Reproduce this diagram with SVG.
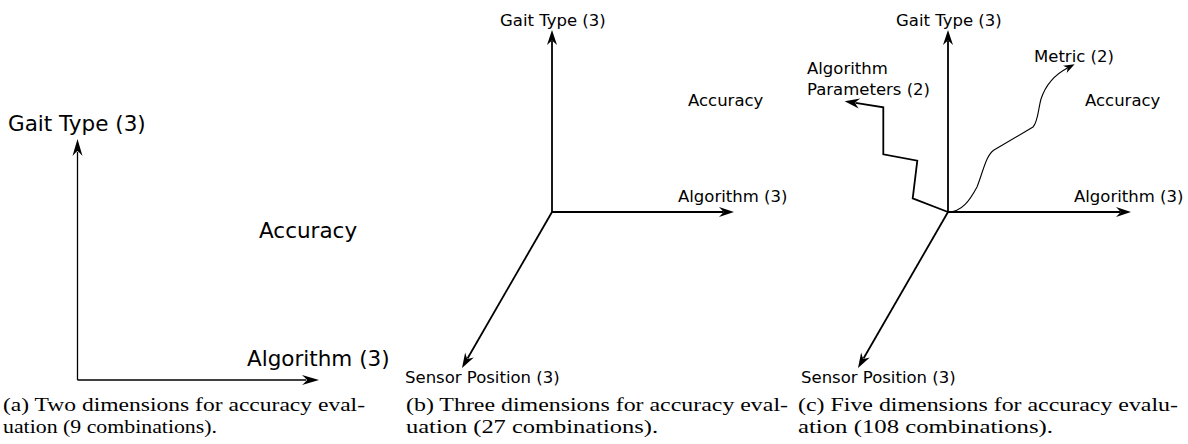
<svg xmlns="http://www.w3.org/2000/svg" width="1188" height="444" viewBox="0 0 1188 444">
<style>
.lbl{font-family:"DejaVu Sans",Verdana,sans-serif;fill:#000}
.big{font-size:21.5px}
.sm{font-size:16.5px}
.cap{font-family:"Liberation Serif","Times New Roman",serif;font-size:18.5px;fill:#000}
.ax{fill:none;stroke:#000;stroke-width:1.8}
.axa{fill:none;stroke:#000;stroke-width:1.3}
.thin{fill:none;stroke:#000;stroke-width:1.1}
</style>
<defs>
<marker id="arrL" markerUnits="userSpaceOnUse" viewBox="-6 -6 22 12" refX="4" refY="0" markerWidth="22" markerHeight="12" orient="auto" overflow="visible">
<path d="M17,0 L0,-5 Q4,-1.5 5,0 Q4,1.5 0,5 Z" fill="#000"/>
</marker>
<marker id="arrM" markerUnits="userSpaceOnUse" viewBox="-6 -6 20 12" refX="4" refY="0" markerWidth="20" markerHeight="12" orient="auto" overflow="visible">
<path d="M15,0 L0,-5 Q3.5,-1.5 4.5,0 Q3.5,1.5 0,5 Z" fill="#000"/>
</marker>
<marker id="arrS" markerUnits="userSpaceOnUse" viewBox="-6 -6 16 12" refX="3" refY="0" markerWidth="16" markerHeight="12" orient="auto" overflow="visible">
<path d="M11,0 L0,-4 Q2.5,-1.2 3,0 Q2.5,1.2 0,4 Z" fill="#000"/>
</marker>
</defs>

<g id="connectors">
<!-- panel a -->
<path class="axa" d="M77.5,380 L77.5,152" marker-end="url(#arrL)"/>
<path class="axa" d="M77.5,380 L306,380" marker-end="url(#arrL)"/>
<!-- panel b -->
<path class="ax" d="M552,212 L552,41" marker-end="url(#arrM)"/>
<path class="ax" d="M552,212 L723,212" marker-end="url(#arrM)"/>
<path class="ax" d="M552,212 L467.5,358.5" marker-end="url(#arrM)"/>
<!-- panel c -->
<path class="ax" d="M948,212 L948,41" marker-end="url(#arrM)"/>
<path class="ax" d="M948,212 L1120,212" marker-end="url(#arrM)"/>
<path class="ax" d="M948,212 L863.5,358.5" marker-end="url(#arrM)"/>
<path class="ax" d="M948,212 L912.7,198.3 L917.3,160.7 L883.3,154.3 L883.3,107.3 L855.5,102.9" marker-end="url(#arrM)"/>
<path class="thin" d="M948,212 C962,212 970,200 977,187 C983,172 986,155 994,150 L1033,127 C1038,122 1038,110 1041,99 C1045,87 1054,75 1067.5,68" marker-end="url(#arrS)"/>
</g>

<g id="panel-a">
<text class="lbl big" x="8" y="131">Gait Type (3)</text>
<text class="lbl big" x="259" y="238">Accuracy</text>
<text class="lbl big" x="247" y="366">Algorithm (3)</text>
<text class="cap" x="3" y="411" textLength="362" lengthAdjust="spacingAndGlyphs">(a) Two dimensions for accuracy eval-</text>
<text class="cap" x="3" y="432.5" textLength="214" lengthAdjust="spacingAndGlyphs">uation (9 combinations).</text>
</g>

<g id="panel-b">
<text class="lbl sm" x="500" y="26">Gait Type (3)</text>
<text class="lbl sm" x="688" y="106">Accuracy</text>
<text class="lbl sm" x="678" y="202">Algorithm (3)</text>
<text class="lbl sm" x="405" y="383">Sensor Position (3)</text>
<text class="cap" x="406" y="411" textLength="382" lengthAdjust="spacingAndGlyphs">(b) Three dimensions for accuracy eval-</text>
<text class="cap" x="406" y="432.5" textLength="252" lengthAdjust="spacingAndGlyphs">uation (27 combinations).</text>
</g>

<g id="panel-c">
<text class="lbl sm" x="896" y="26">Gait Type (3)</text>
<text class="lbl sm" x="1034" y="61.5">Metric (2)</text>
<text class="lbl sm" x="807" y="74">Algorithm</text>
<text class="lbl sm" x="807" y="95">Parameters (2)</text>
<text class="lbl sm" x="1085" y="106">Accuracy</text>
<text class="lbl sm" x="1074" y="202">Algorithm (3)</text>
<text class="lbl sm" x="801" y="383">Sensor Position (3)</text>
<text class="cap" x="798" y="411" textLength="380" lengthAdjust="spacingAndGlyphs">(c) Five dimensions for accuracy evalu-</text>
<text class="cap" x="798" y="432.5" textLength="255" lengthAdjust="spacingAndGlyphs">ation (108 combinations).</text>
</g>
</svg>
